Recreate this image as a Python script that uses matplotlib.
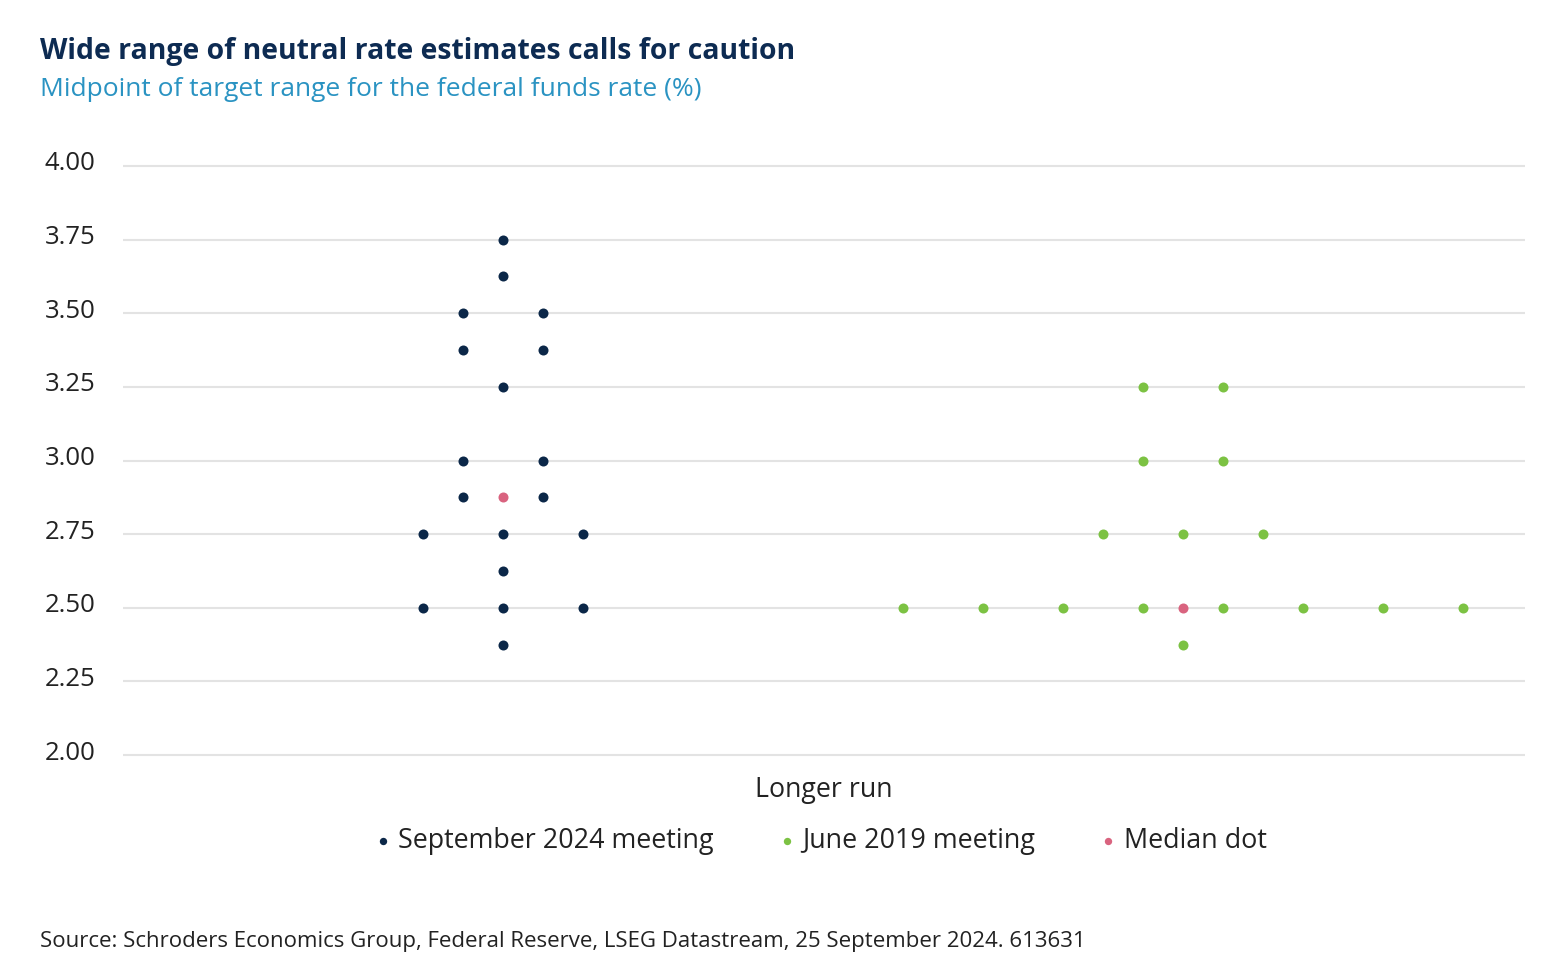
import numpy as np
import matplotlib.pyplot as plt
import matplotlib.transforms as mtransforms

plt.rcParams['font.family'] = ['Open Sans', 'DejaVu Sans']

# dot plot: longer-run projections, each dot = one participant
# column offsets are in dot-widths from the group centre
sep_rates = [3.75, 3.625, 3.5, 3.5, 3.375, 3.375, 3.25, 3.0, 3.0, 2.875, 2.875,
             2.75, 2.75, 2.75, 2.625, 2.5, 2.5, 2.5, 2.375]
sep_cols = [0, 0, -1, 1, -1, 1, 0, -1, 1, -1, 1,
            -2, 0, 2, 0, -2, 0, 2, 0]
sep_median = 2.875

jun_rates = [3.25, 3.25, 3.0, 3.0, 2.75, 2.75, 2.75,
             2.5, 2.5, 2.5, 2.5, 2.5, 2.5, 2.5, 2.5, 2.375]
jun_cols = [-1, 1, -1, 1, -2, 0, 2,
            -7, -5, -3, -1, 1, 3, 5, 7, 0]
jun_median = 2.5

yticks = [2.0, 2.25, 2.5, 2.75, 3.0, 3.25, 3.5, 3.75, 4.0]

NAVY = '#0b2748'
GREEN = '#7cc243'
PINK = '#d9637f'
TXT = '#222222'

W, H = 1565, 974
fig = plt.figure(figsize=(W/100, H/100), dpi=100)
# y 4.00 -> 166px, 2.00 -> 755px, with 0.01 padding each side
top, bot = 166 - 2.95, 755 + 2.95
ax = fig.add_axes([123/W, 1-bot/H, (1525-123)/W, (bot-top)/H])

sep_c, jun_c = 9.5, 26.5
ax.scatter(sep_c + np.array(sep_cols), sep_rates, s=52, color=NAVY, zorder=3, linewidths=0)
ax.scatter([sep_c], [sep_median], s=52, color=PINK, zorder=3, linewidths=0)
ax.scatter(jun_c + np.array(jun_cols), jun_rates, s=52, color=GREEN, zorder=3, linewidths=0)
ax.scatter([jun_c], [jun_median], s=52, color=PINK, zorder=3, linewidths=0)

ax.set_xlim(0, 35.05)
ax.set_yticks(yticks)
ax.set_yticklabels(['%.2f' % t for t in yticks])
ax.set_xticks([])
ax.grid(axis='y', color='#e3e3e3', linewidth=1.5)
ax.set_axisbelow(True)
for s in ax.spines.values():
  s.set_visible(False)
ax.tick_params(axis='y', length=0, pad=20, labelsize=18.5, labelcolor=TXT)
ax.set_ylim(1.99, 4.01)
shift = mtransforms.ScaledTranslation(0, 5/100, fig.dpi_scale_trans)
for lab in ax.get_yticklabels():
  lab.set_transform(lab.get_transform() + shift)

ax.set_xlabel('Longer run', fontsize=19.3, color=TXT, labelpad=13)

h1 = ax.scatter([], [], s=28, color=NAVY, linewidths=0)
h2 = ax.scatter([], [], s=28, color=GREEN, linewidths=0)
h3 = ax.scatter([], [], s=28, color=PINK, linewidths=0)
fig.legend([h1, h2, h3], ['September 2024 meeting', 'June 2019 meeting', 'Median dot'],
           loc='center', bbox_to_anchor=(818/W, 1-841/H), ncol=3, frameon=False,
           fontsize=19.4, handletextpad=0.09, columnspacing=2.2, handlelength=1.0,
           labelcolor=TXT)

fig.text(40/W, 1-51/H, 'Wide range of neutral rate estimates calls for caution',
         fontsize=20.4, fontweight='bold', color='#0d2b52', va='center')
fig.text(40/W, 1-90/H, 'Midpoint of target range for the federal funds rate (%)',
         fontsize=19, color='#2a93c2', va='center')
fig.text(40/W, 1-942/H,
         'Source: Schroders Economics Group, Federal Reserve, LSEG Datastream, 25 September 2024. 613631',
         fontsize=16, color=TXT, va='center')

fig.savefig('out.png', dpi=100, facecolor='white')
